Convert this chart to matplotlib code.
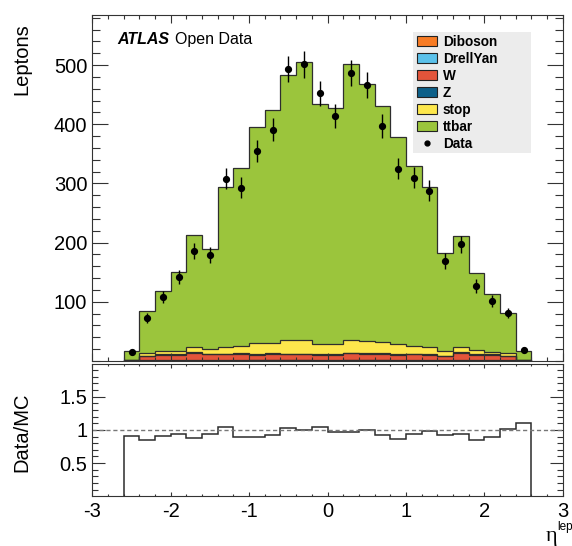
import numpy as np
import matplotlib.pyplot as plt
from matplotlib.patches import Patch, Rectangle
from matplotlib.lines import Line2D
from matplotlib.ticker import MultipleLocator, FixedLocator, FixedFormatter

plt.rcParams['font.family'] = ['Liberation Sans', 'DejaVu Sans']
plt.rcParams['axes.unicode_minus'] = False

# --- binning: eta of the lepton, 26 bins of 0.2 from -2.6 to 2.6 ---
eta_min, eta_max, n_bins = -2.6, 2.6, 26
edges = np.linspace(eta_min, eta_max, n_bins + 1)

# --- MC samples (events per bin) ---
diboson = [0.2, 0.6, 0.7, 0.7, 0.8, 0.7, 0.8, 0.8, 0.9, 0.9, 0.9, 0.9, 0.8,
           0.8, 0.9, 0.9, 0.9, 0.8, 0.8, 0.7, 0.6, 0.8, 0.7, 0.7, 0.6, 0.2]
drellyan = [0.1, 0.4, 0.5, 0.5, 0.6, 0.5, 0.5, 0.6, 0.6, 0.6, 0.6, 0.6, 0.5,
            0.5, 0.6, 0.6, 0.6, 0.5, 0.5, 0.5, 0.4, 0.6, 0.5, 0.5, 0.4, 0.1]
w_jets = [1.4, 7.0, 9.4, 8.9, 12.4, 9.9, 9.8, 10.2, 9.0, 10.1, 9.6, 9.6, 8.8,
          8.8, 11.2, 10.6, 10.6, 9.2, 9.8, 9.3, 7.0, 12.9, 9.4, 8.9, 7.0, 1.4]
z_jets = [0.3, 1.2, 1.4, 1.4, 1.6, 1.5, 1.5, 1.6, 1.5, 1.6, 1.5, 1.5, 1.4,
          1.4, 1.6, 1.6, 1.6, 1.5, 1.5, 1.5, 1.2, 1.7, 1.4, 1.4, 1.2, 0.3]
stop = [0.5, 4.0, 5.7, 6.2, 9.1, 8.4, 11.9, 13.0, 19.2, 18.0, 23.7, 22.6, 18.0,
        18.0, 20.9, 19.3, 18.3, 17.5, 13.6, 11.4, 8.5, 8.5, 7.4, 4.5, 4.5, 0.5]
ttbar = [14.1, 71.0, 100.3, 133.0, 188.2, 168.6, 269.9, 300.3, 363.4, 393.3,
         446.7, 470.4, 404.5, 397.8, 465.9, 434.3, 399.3, 348.8, 302.5, 269.8,
         164.0, 186.5, 129.6, 98.0, 66.6, 14.7]

# --- data ---
data = [15, 72, 108, 142, 186, 179, 308, 293, 355, 391, 493, 501, 452,
        414, 487, 466, 397, 325, 310, 288, 169, 197, 127, 102, 81, 19]

labels = ['Diboson', 'DrellYan', 'W', 'Z', 'stop', 'ttbar']
colors = ['#f77b24', '#5bc1ea', '#e3543a', '#0d6089', '#fde74c', '#9bc53c']
samples = [diboson, drellyan, w_jets, z_jets, stop, ttbar]

fig = plt.figure(figsize=(5.72, 5.46), dpi=100)
ax = fig.add_axes([0.1614, 0.3388, 0.8224, 0.6337])
axr = fig.add_axes([0.1614, 0.0921, 0.8224, 0.2412])

# --- stacked MC ---
bottom = np.zeros(n_bins)
tops = []
for vals, col in zip(samples, colors):
    top = bottom + np.array(vals)
    ax.stairs(top, edges, baseline=bottom, fill=True, color=col, lw=0)
    tops.append(top)
    bottom = top
for top in tops:
    ax.stairs(top, edges, baseline=0, color='#2e2e2e', lw=0.9)

mc_total = bottom
data = np.array(data, dtype=float)
centers = 0.5 * (edges[:-1] + edges[1:])
ax.errorbar(centers, data, yerr=np.sqrt(data), fmt='o', color='black',
            ms=4.2, elinewidth=1, capsize=0)

ax.set_xlim(-3, 3)
ax.set_ylim(0, 584.5)
ax.yaxis.set_major_locator(FixedLocator([100, 200, 300, 400, 500]))
ax.yaxis.set_minor_locator(MultipleLocator(20))
ax.xaxis.set_major_locator(MultipleLocator(1))
ax.xaxis.set_minor_locator(MultipleLocator(0.2))
ax.tick_params(axis='both', which='both', direction='in', top=True, right=True,
               labelsize=14.5, width=0.8, color='#333333', pad=3.6)
ax.tick_params(axis='y', which='major', length=11.5)
ax.tick_params(axis='y', which='minor', length=5.8)
ax.tick_params(axis='x', which='major', length=6)
ax.tick_params(axis='x', which='minor', length=2.9)
ax.tick_params(axis='x', labelbottom=False)

ax.text(0.053, 0.916, 'ATLAS', transform=ax.transAxes, fontsize=11.5,
        fontweight='bold', fontstyle='italic')
ax.text(0.175, 0.916, 'Open Data', transform=ax.transAxes, fontsize=11.5)

# legend: grey box, entries on top
ax.add_patch(Rectangle((0.681, 0.601), 0.251, 0.350, transform=ax.transAxes,
                       facecolor='#ececec', edgecolor='none', zorder=4))
handles = [Patch(facecolor=c, edgecolor='#222222', lw=0.8) for c in colors]
handles.append(Line2D([], [], marker='o', color='black', ls='none', ms=3.5))
leg = ax.legend(handles, labels + ['Data'], loc='upper left',
                bbox_to_anchor=(0.683, 0.953), borderaxespad=0,
                prop={'weight': 'bold', 'size': 9.8}, frameon=False,
                handlelength=1.5, handleheight=0.8,
                handletextpad=0.4, labelspacing=0.22, borderpad=0.25)
leg.set_zorder(5)

# --- ratio panel ---
ratio = data / mc_total
axr.stairs(ratio, edges, baseline=0, color='#2b2b2b', lw=1.1)
axr.axhline(1, color='#777777', lw=1, ls=(0, (3, 2)))
axr.set_xlim(-3, 3)
axr.set_ylim(0.01, 1.99)
axr.yaxis.set_major_locator(FixedLocator([0.5, 1, 1.5]))
axr.yaxis.set_major_formatter(FixedFormatter(['0.5', '1', '1.5']))
axr.yaxis.set_minor_locator(MultipleLocator(0.1))
axr.xaxis.set_major_locator(MultipleLocator(1))
axr.xaxis.set_minor_locator(MultipleLocator(0.2))
axr.tick_params(axis='both', which='both', direction='in', top=True, right=True,
                labelsize=14.5, width=0.8, color='#333333')
axr.tick_params(axis='y', which='major', length=9.1, pad=3.6)
axr.tick_params(axis='y', which='minor', length=4.3)
axr.tick_params(axis='x', which='major', length=2.9, pad=4.3)
axr.tick_params(axis='x', which='minor', length=1.4)

for a in (ax, axr):
    for s in a.spines.values():
        s.set_color('#333333')
        s.set_linewidth(0.8)

fig.text(0.0385, 0.958, 'Leptons', rotation=90, ha='center', va='top',
         fontsize=14.5)
fig.text(0.0385, 1 - 432 / 546, 'Data/MC', rotation=90, ha='center',
         va='center', fontsize=14.5)
fig.text(0.954, 1 - 541 / 546, 'η', family='Liberation Serif', fontsize=16,
         va='baseline', ha='left')
fig.text(0.9745, 1 - 530 / 546, 'lep', fontsize=8.5, va='baseline', ha='left')

fig.savefig('out.png', dpi=100)
